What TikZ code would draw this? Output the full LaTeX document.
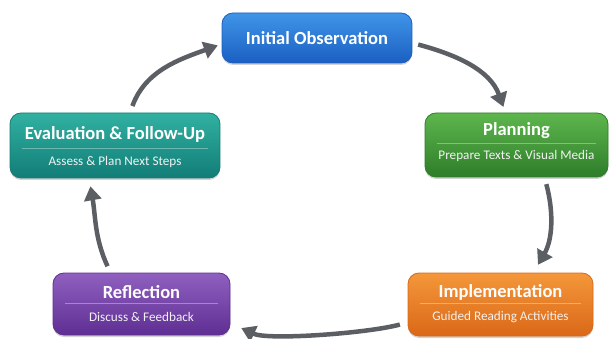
\documentclass[tikz,border=0pt]{standalone}
\usepackage{fontspec}
\setmainfont{Carlito}
\usetikzlibrary{arrows.meta,shadows}

\definecolor{obsbluetop}{HTML}{3F95E8}
\definecolor{obsbluebot}{HTML}{1B5FC2}
\definecolor{plangreentop}{HTML}{5EB64D}
\definecolor{plangreenbot}{HTML}{2E7D2A}
\definecolor{evaltealtop}{HTML}{31B1A1}
\definecolor{evaltealbot}{HTML}{127D77}
\definecolor{implorangetop}{HTML}{F4973A}
\definecolor{implorangebot}{HTML}{DA6818}
\definecolor{reflpurpletop}{HTML}{9060C0}
\definecolor{reflpurplebot}{HTML}{5E2E93}
\definecolor{cyclegray}{HTML}{5B5E63}

\tikzset{
  stagebox/.style={rectangle, rounded corners=11pt, line width=0.8pt,
    drop shadow={shadow xshift=0pt, shadow yshift=-2pt, opacity=0.35}},
  stagetitle/.style={text=white, font=\bfseries\fontsize{18.5}{20}\selectfont, inner sep=0pt},
  stagesub/.style={text=white!95!black, font=\fontsize{13.2}{15}\selectfont, inner sep=0pt},
  divider/.style={white, opacity=0.35, line width=0.6pt},
  cyclearrow/.style={cyclegray, line width=4.5pt,
    -{Triangle[length=14pt, width=17pt]}}
}

\begin{document}
\begin{tikzpicture}[x=1pt, y=1pt]
\useasboundingbox (0,0) rectangle (611,338);

% stages
\node[stagebox, top color=obsbluetop, bottom color=obsbluebot, draw=obsbluebot,
  minimum width=190pt, minimum height=50pt] (init) at (317,300) {};
\node[stagetitle] (inittitle) at (init) {Initial Observation};

\node[stagebox, top color=plangreentop, bottom color=plangreenbot, draw=plangreenbot,
  minimum width=183pt, minimum height=64pt] (plan) at (516.5,193) {};
\node[stagetitle] (plantitle) at ([yshift=14pt]plan.center) {Planning};
\node[stagesub] (plansub) at ([yshift=-11pt]plan.center) {Prepare Texts \& Visual Media};
\draw[divider] ([xshift=12pt,yshift=2pt]plan.west) -- ([xshift=-12pt,yshift=2pt]plan.east);

\node[stagebox, top color=implorangetop, bottom color=implorangebot, draw=implorangebot,
  minimum width=185pt, minimum height=63pt] (impl) at (500.5,33.5) {};
\node[stagetitle] (impltitle) at ([yshift=12.5pt]impl.center) {Implementation};
\node[stagesub] (implsub) at ([yshift=-12.5pt]impl.center) {Guided Reading Activities};
\draw[divider] ([xshift=12pt,yshift=1.5pt]impl.west) -- ([xshift=-12pt,yshift=1.5pt]impl.east);

\node[stagebox, top color=reflpurpletop, bottom color=reflpurplebot, draw=reflpurplebot,
  minimum width=177pt, minimum height=62pt] (refl) at (141.5,34) {};
\node[stagetitle] (refltitle) at ([yshift=12pt]refl.center) {Reflection};
\node[stagesub] (reflsub) at ([yshift=-13pt]refl.center) {Discuss \& Feedback};
\draw[divider] ([xshift=12pt,yshift=1pt]refl.west) -- ([xshift=-12pt,yshift=1pt]refl.east);

\node[stagebox, top color=evaltealtop, bottom color=evaltealbot, draw=evaltealbot,
  minimum width=210pt, minimum height=65pt] (eval) at (115,192.5) {};
\node[stagetitle] (evaltitle) at ([yshift=11pt]eval.center) {Evaluation \& Follow-Up};
\node[stagesub] (evalsub) at ([yshift=-16pt]eval.center) {Assess \& Plan Next Steps};
\draw[divider] ([xshift=12pt,yshift=-3pt]eval.west) -- ([xshift=-12pt,yshift=-3pt]eval.east);

% cycle
\draw[cyclearrow, shorten <=7pt, shorten >=4pt]
  ([xshift=15pt]eval.north) to[out=70, in=200] ([yshift=-6pt]init.west);
\draw[cyclearrow, shorten <=6pt, shorten >=6pt]
  ([yshift=-5pt]init.east) to[out=-15, in=110] ([xshift=-11pt]plan.north);
\draw[cyclearrow, shorten <=7pt, shorten >=9pt]
  ([xshift=28pt]plan.south) to[out=-75, in=60] ([xshift=33pt]impl.north);
\draw[cyclearrow, shorten <=8pt, shorten >=12pt]
  ([yshift=-18pt]impl.west) to[out=-165, in=-25, looseness=0.6] ([yshift=-19pt]refl.east);
\draw[cyclearrow, shorten <=7pt, shorten >=8pt]
  ([xshift=-31pt]refl.north) to[out=115, in=-80] ([xshift=-26pt]eval.south);
\end{tikzpicture}
\end{document}
